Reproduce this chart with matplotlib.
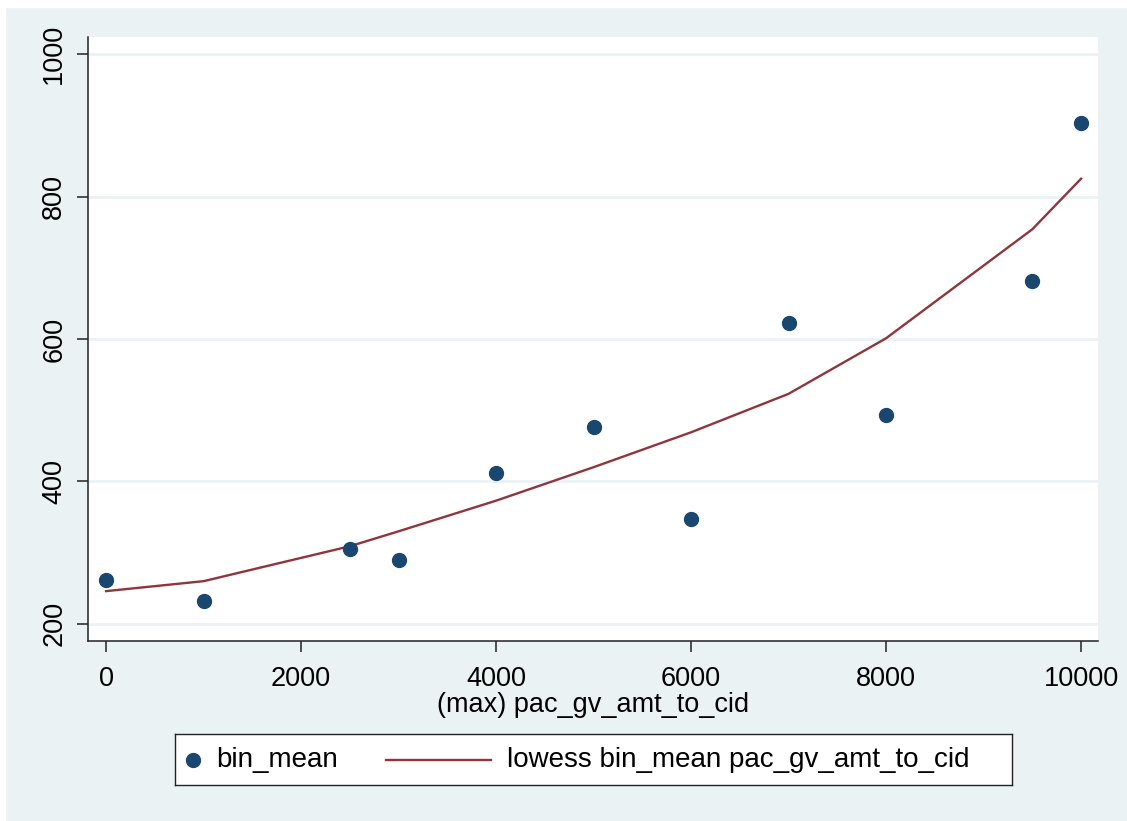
import matplotlib
matplotlib.use("Agg")
import matplotlib.pyplot as plt
from matplotlib.patches import Rectangle

# bin means (scatter) and the lowess fit
pac_amt = [0, 1000, 2500, 3000, 4000, 5000, 6000, 7000, 8000, 9500, 10000]
bin_mean = [262, 232, 305, 290, 412, 476, 347, 622, 493, 681, 903]
lowess_fit = [246, 260, 309, 330, 373, 420, 469, 523, 601, 754, 825]

x_ticks = [0, 2000, 4000, 6000, 8000, 10000]
y_ticks = [200, 400, 600, 800, 1000]
labels = ["bin_mean", "lowess bin_mean pac_gv_amt_to_cid"]

bg = "#EAF2F3"
navy = "#1A476F"
maroon = "#90353B"
ink = "#222222"

plt.rcParams["font.family"] = ["Liberation Sans", "DejaVu Sans"]

W, H = 1127, 821
fig = plt.figure(figsize=(W / 100, H / 100), dpi=100, facecolor=bg)
# thin white margin at top and left of the original screenshot
fig.patches.append(Rectangle((0, 0), 5 / W, 1, transform=fig.transFigure, color="white", zorder=-1))
fig.patches.append(Rectangle((0, 1 - 7 / H), 1, 7 / H, transform=fig.transFigure, color="white", zorder=-1))


def box(l, t, r, b):
    return [l / W, 1 - b / H, (r - l) / W, (b - t) / H]


ax = fig.add_axes(box(88, 37, 1098, 641))
ax.set_facecolor("white")

for y in y_ticks:
    ax.axhline(y, color=bg, lw=2, zorder=0)

ax.plot(pac_amt, lowess_fit, color=maroon, lw=1.7, zorder=2)
ax.plot(pac_amt, bin_mean, "o", color=navy, ms=10, mec=navy, zorder=3)

ax.set_xlim(-185, 10174)
ax.set_ylim(176, 1024)
ax.set_xticks(x_ticks)
ax.set_yticks(y_ticks)
ax.set_yticklabels([str(v) for v in y_ticks], rotation=90, va="center")

for s in ["top", "right"]:
    ax.spines[s].set_visible(False)
for s in ["left", "bottom"]:
    ax.spines[s].set_color(ink)
    ax.spines[s].set_linewidth(1.1)
ax.tick_params(axis="both", length=8, width=1.1, color=ink, labelsize=19.5)
ax.tick_params(axis="x", pad=10)
ax.tick_params(axis="y", pad=7)
ax.set_xlabel("(max) pac_gv_amt_to_cid", fontsize=19.5, labelpad=0)

# legend box laid out like Stata's: short marker key, long line key
lg = fig.add_axes(box(175, 734, 1012, 785))
lg.set_xlim(175, 1012)
lg.set_ylim(785, 734)
lg.set_facecolor("white")
lg.set_xticks([])
lg.set_yticks([])
for s in lg.spines.values():
    s.set_color(ink)
    s.set_linewidth(1.0)
lg.plot([193], [759.5], "o", color=navy, ms=10)
lg.text(216, 760, labels[0], fontsize=20, va="center", ha="left")
lg.plot([386, 491], [759.5, 759.5], color=maroon, lw=1.7)
lg.text(507, 760, labels[1], fontsize=20, va="center", ha="left")

fig.savefig("out.png", dpi=100, facecolor=bg)
